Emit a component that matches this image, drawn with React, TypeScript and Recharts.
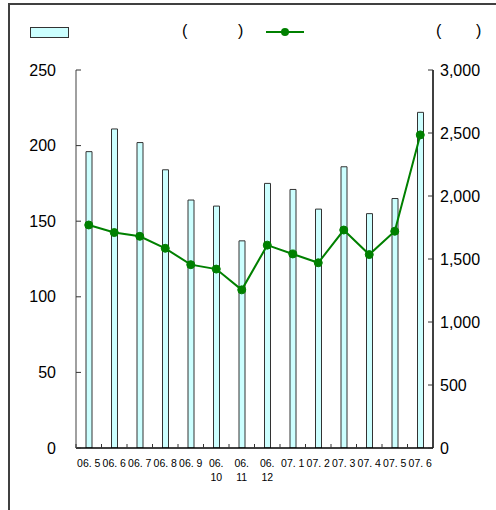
import React from 'react'
import {
    ComposedChart,
    Bar,
    Line,
    XAxis,
    YAxis,
} from 'recharts'

const months = ['06. 5', '06. 6', '06. 7', '06. 8', '06. 9', '06. 10', '06. 11', '06. 12', '07. 1', '07. 2', '07. 3', '07. 4', '07. 5', '07. 6']
const barValues = [196, 211, 202, 184, 164, 160, 137, 175, 171, 158, 186, 155, 165, 222]
const lineValues = [1770, 1710, 1680, 1585, 1455, 1420, 1255, 1610, 1540, 1470, 1730, 1535, 1720, 2485]
const leftTicks = [0, 50, 100, 150, 200, 250]
const rightTicks = [0, 500, 1000, 1500, 2000, 2500, 3000]

const data = months.map((m, i) => ({ month: m, bar: barValues[i], line: lineValues[i] }))

const FONT = '"Liberation Sans", Arial, sans-serif'
const W = 496
const H = 510
const MARGIN = { top: 70, right: 13, left: 16, bottom: 22 }
const LEFT_W = 60
const RIGHT_W = 50
const STEP = (W - MARGIN.left - MARGIN.right - LEFT_W - RIGHT_W) / months.length

const LeftTick = (props: any) => {
    const { x, y, payload } = props
    return (
        <g>
            <line x1={x} x2={x + 5} y1={y} y2={y} stroke="#333" />
            <text x={x - 20} y={y} dy="0.35em" textAnchor="end" fontSize={16} fontFamily={FONT} fill="#000">
                {payload.value}
            </text>
        </g>
    )
}

const RightTick = (props: any) => {
    const { x, y, payload } = props
    return (
        <g>
            <line x1={x - 5} x2={x} y1={y} y2={y} stroke="#333" />
            <text x={x + 7} y={y} dy="0.35em" textAnchor="start" fontSize={16} fontFamily={FONT} fill="#000">
                {payload.value.toLocaleString('en-US')}
            </text>
        </g>
    )
}

const MonthTick = (props: any) => {
    const { x, y, payload } = props
    const label: string = payload.value
    const parts = label.split(' ')
    const lines = parts[1].length > 1 ? [parts[0], parts[1]] : [label]
    return (
        <g>
            <line x1={x - STEP / 2} x2={x - STEP / 2} y1={y} y2={y - 4} stroke="#333" />
            {lines.map((t, i) => (
                <text key={i} x={x} y={y + 15 + i * 14} dy="0.35em" textAnchor="middle" fontSize={10.5} fontFamily={FONT} fill="#000">
                    {t}
                </text>
            ))}
        </g>
    )
}

export default function App() {
    return (
        <div style={{ position: 'fixed', left: 0, top: 0, width: W, height: H, background: '#fff', overflow: 'hidden', fontFamily: FONT }}>
            <div style={{ position: 'absolute', left: 8, top: 3, width: 600, height: 600, borderLeft: '2px solid #404040', borderTop: '2px solid #404040' }} />
            <div style={{ position: 'absolute', left: 30, top: 27, width: 37, height: 9, background: '#CCFFFF', border: '1px solid #333' }} />
            <span style={{ position: 'absolute', left: 182, top: 22, fontSize: 16 }}>(</span>
            <span style={{ position: 'absolute', left: 238, top: 22, fontSize: 16 }}>)</span>
            <svg style={{ position: 'absolute', left: 264, top: 24 }} width={42} height={16}>
                <line x1={2} x2={40} y1={8} y2={8} stroke="#008000" strokeWidth={2} />
                <circle cx={21} cy={8} r={4} fill="#008000" />
            </svg>
            <span style={{ position: 'absolute', left: 436, top: 22, fontSize: 16 }}>(</span>
            <span style={{ position: 'absolute', left: 476, top: 22, fontSize: 16 }}>)</span>
            <div style={{ position: 'absolute', left: 0, top: 0 }}>
                <ComposedChart width={W} height={H} data={data} margin={MARGIN}>
                    <XAxis
                        dataKey="month"
                        interval={0}
                        height={40}
                        tickLine={false}
                        tickSize={0}
                        tickMargin={0}
                        axisLine={{ stroke: '#000', strokeWidth: 1.5 }}
                        tick={<MonthTick />}
                    />
                    <YAxis
                        yAxisId="left"
                        width={LEFT_W}
                        domain={[0, 250]}
                        ticks={leftTicks}
                        tickLine={false}
                        tickSize={0}
                        tickMargin={0}
                        axisLine={{ stroke: '#808080', strokeWidth: 1.5 }}
                        tick={<LeftTick />}
                        allowDataOverflow
                    />
                    <YAxis
                        yAxisId="right"
                        orientation="right"
                        width={RIGHT_W}
                        domain={[0, 3000]}
                        ticks={rightTicks}
                        tickLine={false}
                        tickSize={0}
                        tickMargin={0}
                        axisLine={{ stroke: '#000', strokeWidth: 1.5 }}
                        tick={<RightTick />}
                        allowDataOverflow
                    />
                    <Bar yAxisId="left" dataKey="bar" barSize={6} fill="#CCFFFF" stroke="#333" strokeWidth={1} isAnimationActive={false} />
                    <Line yAxisId="right" dataKey="line" type="linear" stroke="#008000" strokeWidth={2} dot={{ r: 4, fill: '#008000', stroke: '#008000', strokeWidth: 1 }} isAnimationActive={false} />
                </ComposedChart>
            </div>
        </div>
    )
}
